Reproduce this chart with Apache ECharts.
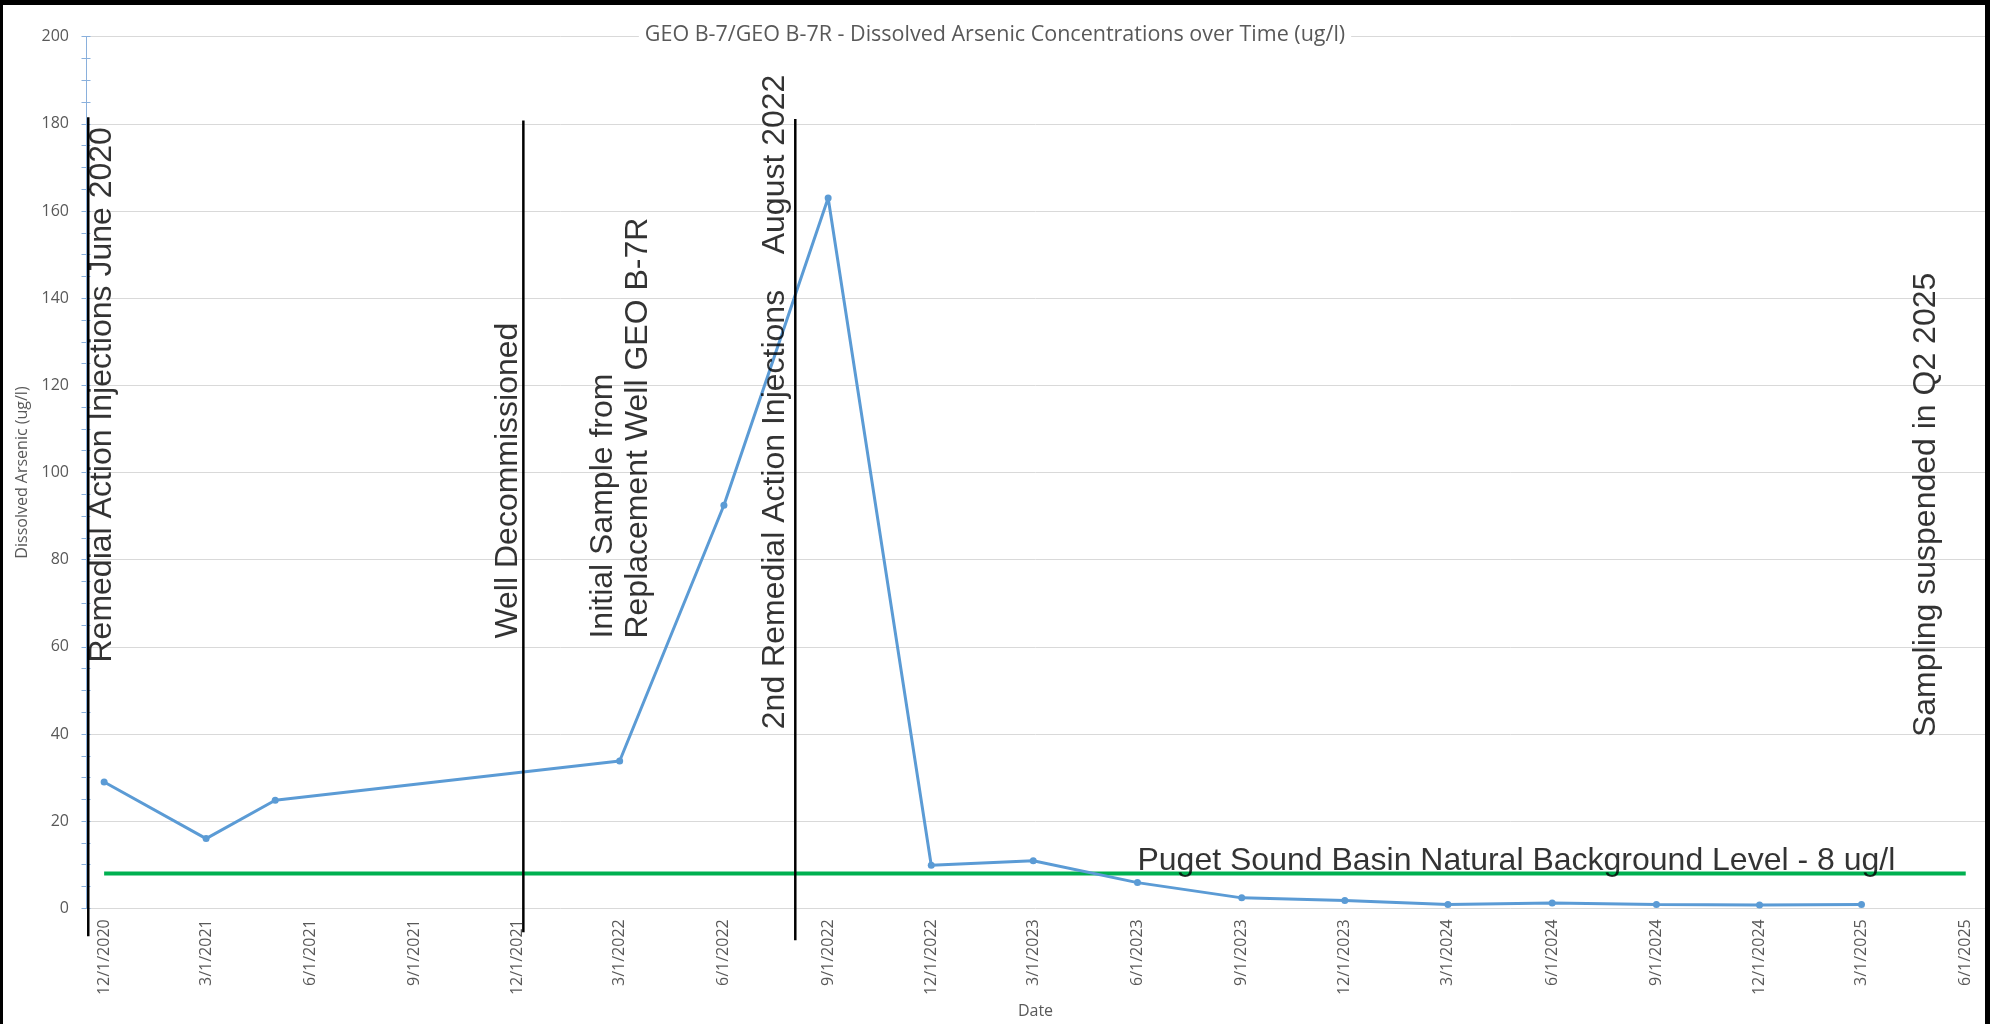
<!DOCTYPE html>
<html><head><meta charset="utf-8">
<script src="https://cdn.jsdelivr.net/npm/echarts@6/dist/echarts.min.js"></script>
<style>
html,body{margin:0;padding:0;background:#fff;}
#chart{position:absolute;left:0;top:0;width:1990px;height:1024px;}
#frame{position:absolute;left:0;top:0;width:1990px;height:1024px;box-sizing:border-box;border-top:5px solid #000;border-left:3px solid #000;border-right:5px solid #000;pointer-events:none;}
</style></head><body>
<div id="chart"></div><div id="frame"></div>
<script>
// ---- data ----
const chartTitle = 'GEO B-7/GEO B-7R - Dissolved Arsenic Concentrations over Time (ug/l)';
const tickLabels = ['12/1/2020','3/1/2021','6/1/2021','9/1/2021','12/1/2021','3/1/2022','6/1/2022','9/1/2022','12/1/2022','3/1/2023','6/1/2023','9/1/2023','12/1/2023','3/1/2024','6/1/2024','9/1/2024','12/1/2024','3/1/2025','6/1/2025'];
const axisStart = '11/15/2020';
const axisEnd = '6/18/2025';
const sampleDates = ['12/1/2020','3/1/2021','5/1/2021','3/1/2022','6/1/2022','9/1/2022','12/1/2022','3/1/2023','6/1/2023','9/1/2023','12/1/2023','3/1/2024','6/1/2024','9/1/2024','12/1/2024','3/1/2025'];
const arsenic = [29.0, 16.0, 24.8, 33.8, 92.5, 163.0, 9.9, 10.9, 5.9, 2.4, 1.8, 0.9, 1.2, 0.9, 0.75, 0.9];
const backgroundLevel = 8;
const backgroundSpan = ['12/1/2020','6/1/2025'];
const eventDates = ['11/17/2020','12/6/2021','8/3/2022'];
const eventTop = [181.5, 180.8, 181.1];
const eventBottom = [-6.4, -5.5, -7.3];
const noteTexts = ['Remedial Action Injections June 2020','Well Decommissioned','Initial Sample from\nReplacement Well GEO B-7R','2nd Remedial Action Injections    August 2022','Sampling suspended in Q2 2025'];
const noteDates = ['11/29/2020','11/23/2021','3/2/2022','7/16/2022','4/27/2025'];
const noteValues = [56.4, 61.9, 61.9, 41.1, 39.3];
const levelNoteText = 'Puget Sound Basin Natural Background Level - 8 ug/l';
const levelNoteDate = '6/1/2023';
const levelNoteValue = 10.9;

// ---- helpers ----
function ts(s){const p=s.split('/').map(Number);return Date.UTC(p[2],p[0]-1,p[1]);}
function fmt(v){const d=new Date(v);return (d.getUTCMonth()+1)+'/'+d.getUTCDate()+'/'+d.getUTCFullYear();}
const tickValues = tickLabels.map(ts);

const gray = '#595959';
const uiFont = "'Open Sans', sans-serif";
const noteFont = "'Liberation Sans', Arial, sans-serif";
const axisBlue = '#8AB0DC';

const series = [];
series.push({
  type:'line', name:'As', data: sampleDates.map((d,i)=>[ts(d), arsenic[i]]),
  symbol:'circle', symbolSize:7, showSymbol:true,
  itemStyle:{color:'#5B9BD5'}, lineStyle:{color:'#5B9BD5', width:3},
  z:3, clip:false
});
series.push({
  type:'line', name:'bg', data: backgroundSpan.map(d=>[ts(d), backgroundLevel]),
  showSymbol:false, lineStyle:{color:'#00B050', width:4}, z:2, clip:false
});
eventDates.forEach((d,i)=>{
  series.push({
    type:'line', data:[[ts(d), eventBottom[i]],[ts(d), eventTop[i]]],
    showSymbol:false, lineStyle:{color:'#000', width:2.5}, z:4, clip:false
  });
});
const noteData = noteTexts.map((t,i)=>({
  value:[ts(noteDates[i]), noteValues[i]], name:t,
  label:{show:true, position:'inside', rotate:90, align:'left', verticalAlign:'middle',
    formatter:t, fontFamily:noteFont, fontSize:32, lineHeight:35, color:'#000'}
}));
noteData.push({
  value:[ts(levelNoteDate), levelNoteValue], name:levelNoteText,
  label:{show:true, position:'inside', rotate:0, align:'left', verticalAlign:'middle',
    formatter:levelNoteText, fontFamily:noteFont, fontSize:32, color:'#000'}
});
series.push({
  type:'scatter', data:noteData, symbolSize:0, z:5, clip:false, silent:true
});

const yCommon = {
  type:'value', min:0, max:200, interval:20, position:'left'
};

const chart = echarts.init(document.getElementById('chart'), null, {renderer:'canvas'});
chart.setOption({
  animation:false,
  backgroundColor:'#fff',
  title:{
    text:chartTitle, left:'center', top:23, padding:[0,6],
    backgroundColor:'#fff',
    textStyle:{fontFamily:uiFont, fontSize:21.5, fontWeight:'normal', color:gray, lineHeight:24}
  },
  grid:{left:86, right:5, top:36.7, bottom:115, containLabel:false},
  xAxis:{
    type:'value', min:ts(axisStart), max:ts(axisEnd),
    name:'Date', nameLocation:'middle', nameGap:91,
    nameTextStyle:{fontFamily:uiFont, fontSize:16, color:gray},
    axisLine:{show:false}, axisTick:{show:false}, splitLine:{show:false},
    axisLabel:{customValues:tickValues, rotate:90, margin:11, fontFamily:uiFont, fontSize:16, color:gray,
      formatter:v=>fmt(v), showMinLabel:true, showMaxLabel:true, hideOverlap:false}
  },
  yAxis:[
    Object.assign({}, yCommon, {
      name:'Dissolved Arsenic (ug/l)', nameLocation:'middle', nameGap:56,
      nameTextStyle:{fontFamily:uiFont, fontSize:16, color:gray},
      axisLine:{show:true, lineStyle:{color:axisBlue, width:1}},
      axisTick:{show:true, length:4.5, lineStyle:{color:axisBlue}},
      minorTick:{show:true, splitNumber:4, length:4.5, lineStyle:{color:axisBlue}},
      splitLine:{show:true, lineStyle:{color:'#D9D9D9', width:1}},
      axisLabel:{margin:17, fontFamily:uiFont, fontSize:16, color:gray}
    }),
    Object.assign({}, yCommon, {
      axisLine:{show:false},
      axisTick:{show:true, inside:true, length:4.5, lineStyle:{color:axisBlue}},
      minorTick:{show:true, splitNumber:4, length:4.5, lineStyle:{color:axisBlue}},
      splitLine:{show:false}, axisLabel:{show:false}
    })
  ],
  series: series
});
</script></body></html>
